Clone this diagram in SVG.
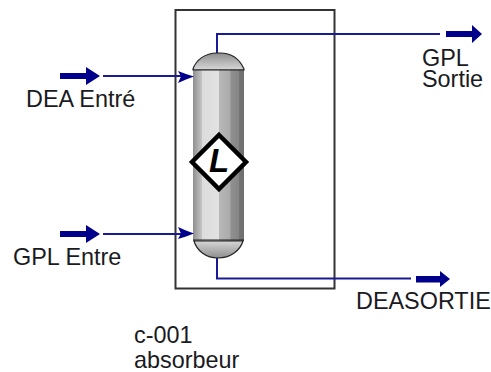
<svg xmlns="http://www.w3.org/2000/svg" width="491" height="372" viewBox="0 0 491 372">
<style>
text{font-family:"Liberation Sans",Arial,sans-serif;font-size:23.4px;fill:#1a1a22}
.c{fill:none;stroke:#1a1a96;stroke-width:2}
.a{fill:#00008b}
.e{stroke:#222;stroke-width:1.200}
</style>
<defs>
<linearGradient id="b" x1="0" x2="1" y1="0" y2="0">
<stop offset="0" stop-color="#8f8f8f"/><stop offset=".17" stop-color="#c4c4c4"/><stop offset=".18" stop-color="#dcdcdc"/><stop offset=".5" stop-color="#e2e2e2"/><stop offset=".51" stop-color="#b8b8b8"/><stop offset=".73" stop-color="#aaaaaa"/><stop offset=".74" stop-color="#909090"/><stop offset=".9" stop-color="#858585"/><stop offset=".91" stop-color="#747474"/><stop offset="1" stop-color="#6e6e6e"/>
</linearGradient>
<linearGradient id="t" x1="0" x2="0" y1="0" y2="1"><stop offset="0" stop-color="#8e8e8e"/><stop offset="1" stop-color="#d8d8d8"/></linearGradient>
<linearGradient id="u" x1="0" x2="0" y1="0" y2="1"><stop offset="0" stop-color="#d6d6d6"/><stop offset="1" stop-color="#8e8e8e"/></linearGradient>
</defs>
<rect id="frame" x="175.500" y="10" width="159" height="278.500" fill="#fff" stroke="#333" stroke-width="2"/>
<g id="connectors">
<path class="c" d="M103 76H185"/>
<path class="c" d="M103 234H185"/>
<path class="c" d="M217 54V34H440"/>
<path class="c" d="M217 258V278.500H411"/>
</g>
<g id="column">
<path class="e" d="M193 69C196 60 205 53 217 53H220C232 53 240 60 244 69V70H193Z" fill="url(#t)"/>
<rect x="193" y="70" width="51" height="171" fill="url(#b)"/>
<path class="e" d="M193 70H244M193 240H244" fill="none"/>
<path class="e" d="M194 241C197 251 206 258 218 258S240 251 243 241Z" fill="url(#u)"/>
<path d="M219 135L246 162L219 189L192 162Z" fill="#fff" stroke="#000" stroke-width="4.500"/>
<text x="219" y="172" style="font-size:33px;font-weight:bold;font-style:italic;fill:#000" text-anchor="middle">L</text>
</g>
<g id="dea-in">
<path class="a" d="M60 73H86V67L100 76L86 85V79H60Z"/>
<path class="a" d="M178 71L186 74L194 76.500L186 79.500L178 83L181 76.500Z"/>
<text x="26" y="107">DEA Entré</text>
</g>
<g id="gpl-in">
<path class="a" d="M60 231H86V225L100 234L86 243V237H60Z"/>
<path class="a" d="M178 227L186 230.500L194 233.500L186 236.500L178 239L181 233.500Z"/>
<text x="13" y="265">GPL Entre</text>
</g>
<g id="gpl-out">
<path class="a" d="M446 31H472V25L482 34L472 43V37H446Z"/>
<text x="422" y="66">GPL</text>
<text x="422" y="87">Sortie</text>
</g>
<g id="dea-out">
<path class="a" d="M416 276H440V271L450 279L440 287V282.500H416Z"/>
<text x="356" y="309">DEASORTIE</text>
</g>
<g id="label">
<text x="134" y="343">c-001</text>
<text x="134" y="368">absorbeur</text>
</g>
</svg>
